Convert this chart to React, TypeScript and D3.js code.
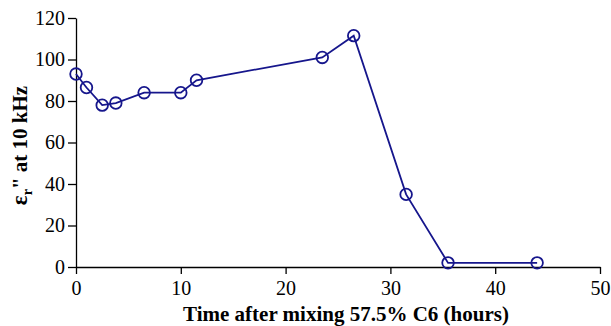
import React, { useEffect, useRef } from 'react';
import * as d3 from 'd3';

const hours = [0, 1, 2.5, 3.8, 6.5, 10, 11.5, 23.5, 26.5, 31.5, 35.5, 44];
const lossValues = [93, 86.5, 78, 79, 84, 84, 90, 101, 111.5, 35, 2, 2];
const xTicks = [0, 10, 20, 30, 40, 50];
const yTicks = [0, 20, 40, 60, 80, 100, 120];

const width = 611;
const height = 326;

export default function App() {
  const svgRef = useRef<SVGSVGElement>(null);

  useEffect(() => {
    document.body.style.margin = '0';
    document.body.style.overflow = 'hidden';
    if (!svgRef.current) return;
    const svg = d3.select(svgRef.current);
    svg.selectAll('*').remove();

    const margin = { top: 18, right: 11, bottom: 59, left: 76 };
    const innerWidth = width - margin.left - margin.right;
    const innerHeight = height - margin.top - margin.bottom;

    const g = svg
      .append('g')
      .attr('transform', `translate(${margin.left},${margin.top})`);

    const xScale = d3.scaleLinear().domain([0, 50]).range([0, innerWidth]);
    const yScale = d3.scaleLinear().domain([0, 120]).range([innerHeight, 0]);

    const font = '"Liberation Serif", "Times New Roman", serif';

    // Axes
    const xAxis = g
      .append('g')
      .attr('transform', `translate(0,${innerHeight})`)
      .call(d3.axisBottom(xScale).tickValues(xTicks).tickSize(7).tickSizeOuter(0).tickPadding(7));
    const yAxis = g
      .append('g')
      .call(d3.axisLeft(yScale).tickValues(yTicks).tickSize(8).tickSizeOuter(0).tickPadding(3));

    [xAxis, yAxis].forEach(ax => {
      ax.attr('font-family', null);
      ax.select('.domain').attr('stroke', '#000').attr('stroke-width', 1.3);
      ax.selectAll('.tick line').attr('stroke', '#000').attr('stroke-width', 1.3);
      ax.selectAll('.tick text')
        .attr('fill', '#000')
        .style('font-family', font)
        .style('font-size', '20px');
    });

    // x title
    svg
      .append('text')
      .attr('x', 346)
      .attr('y', 321)
      .attr('text-anchor', 'middle')
      .style('font-family', font)
      .style('font-size', '21px')
      .style('font-weight', 'bold')
      .text('Time after mixing 57.5% C6 (hours)');

    // y title
    const yt = svg
      .append('text')
      .attr('transform', `translate(27,${margin.top + innerHeight / 2 + 3}) rotate(-90)`)
      .attr('text-anchor', 'middle')
      .style('font-family', font)
      .style('font-size', '21px')
      .style('font-weight', 'bold');
    yt.append('tspan').style('font-size', '23px').text('ε');
    yt.append('tspan').attr('dy', 5).style('font-size', '14px').text('r');
    yt.append('tspan').attr('dy', -5).text('" at 10 kHz');

    const data = hours.map((h, i) => ({ x: h, y: lossValues[i] }));
    const color = '#16168c';

    const line = d3
      .line<{ x: number; y: number }>()
      .x(d => xScale(d.x))
      .y(d => yScale(d.y));

    g.append('path')
      .datum(data)
      .attr('fill', 'none')
      .attr('stroke', color)
      .attr('stroke-width', 1.8)
      .attr('d', line);

    g.selectAll('.dot')
      .data(data)
      .enter()
      .append('circle')
      .attr('class', 'dot')
      .attr('cx', d => xScale(d.x))
      .attr('cy', d => yScale(d.y))
      .attr('r', 5.8)
      .attr('fill', 'none')
      .attr('stroke', color)
      .attr('stroke-width', 1.8);
  }, []);

  return (
    <svg
      ref={svgRef}
      width={width}
      height={height}
      style={{ display: 'block', position: 'absolute', left: 0, top: 0 }}
    />
  );
}
